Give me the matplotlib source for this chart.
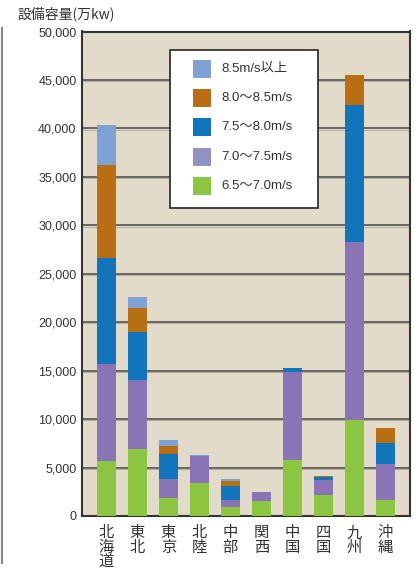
import matplotlib
matplotlib.use("Agg")
import matplotlib.pyplot as plt
from matplotlib.patches import Rectangle
from matplotlib.lines import Line2D
import numpy as np

plt.rcParams['font.family'] = ['Liberation Sans', 'Noto Sans CJK JP', 'DejaVu Sans']

regions = ["北\n海\n道", "東\n北", "東\n京", "北\n陸", "中\n部", "関\n西", "中\n国", "四\n国", "九\n州", "沖\n縄"]
# wind speed classes (bottom to top)
v_65_70 = [5700, 6900, 1900, 3400, 900, 1500, 5800, 2200, 9900, 1600]
v_70_75 = [10000, 7100, 1900, 2750, 800, 950, 9100, 1520, 18400, 3800]
v_75_80 = [10900, 5000, 2600, 50, 1400, 0, 350, 310, 14100, 2100]
v_80_85 = [9600, 2500, 850, 0, 550, 60, 50, 70, 3100, 1600]
v_85_up = [4200, 1100, 600, 50, 200, 0, 0, 0, 0, 0]

series = [v_65_70, v_70_75, v_75_80, v_80_85, v_85_up]
labels = ["6.5～7.0m/s", "7.0～7.5m/s", "7.5～8.0m/s", "8.0～8.5m/s", "8.5m/s以上"]
colors = ["#8CC540", "#8A74B5", "#1175BE", "#B86E13", "#7FA1D4"]
legend_colors = ["#8CC540", "#9192C4", "#1175BE", "#B86E13", "#7FA1D4"]
yticks = [0, 5000, 10000, 15000, 20000, 25000, 30000, 35000, 40000, 45000, 50000]

W, H = 418, 571
fig = plt.figure(figsize=(W / 100, H / 100), dpi=100)
fig.patch.set_facecolor("white")

def fx(px):
    return px / W

def fy(py):
    return 1 - py / H

ax = fig.add_axes([fx(82), fy(516), fx(410) - fx(82), fy(31.5) - fy(516)])
ax.set_facecolor("#E2DBCA")

x = np.arange(len(regions))
bottom = np.zeros(len(regions))
for vals, c in zip(series, colors):
    vals = np.array(vals, dtype=float)
    ax.bar(x, vals, width=0.61, bottom=bottom, color=c, linewidth=0, zorder=3)
    bottom += vals

ax.set_xlim(-0.79, len(regions) - 1 + 0.79)
ax.set_ylim(0, 50000)
ax.set_yticks(yticks)
ax.set_yticklabels([f"{v:,}" for v in yticks], fontsize=9, color="#333333")
for v in yticks[1:-1]:
    ax.axhline(v, color="#5F5A55", lw=1.3, zorder=1)
    ax.axhline(v - 130, color="#B5AFA5", lw=0.8, zorder=1)
ax.tick_params(axis="y", length=0, pad=4)
ax.set_xticks(x)
ax.set_xticklabels(regions, fontsize=11, color="#333333", linespacing=0.82,
                   family=['Noto Sans CJK JP'], va="top")
ax.tick_params(axis="x", length=0, pad=6)
for s in ax.spines.values():
    s.set_color("#333333")
    s.set_linewidth(1.5)

# title
fig.text(fx(17), fy(14), "設備容量(万kw)", fontsize=10, va="center", ha="left",
         family=['Noto Sans CJK JP'], color="#333333")

# left decorative line
fig.add_artist(Line2D([fx(1.5), fx(1.5)], [fy(28), fy(563)], color="#8A8580", lw=1.5))

# legend box
fig.add_artist(Rectangle((fx(170), fy(208)), fx(318) - fx(170), fy(50) - fy(208),
                         facecolor="white", edgecolor="#333333", lw=1.3, zorder=10))
for i, (lab, c) in enumerate(zip(labels[::-1], legend_colors[::-1])):
    cy = 69 + i * 29.2
    fig.add_artist(Rectangle((fx(193), fy(cy + 9)), fx(18), 18 / H,
                             facecolor=c, edgecolor="none", zorder=11))
    fig.text(fx(221), fy(cy), lab, fontsize=9.5, va="center", ha="left",
             color="#333333", zorder=12)

fig.savefig("out.png", dpi=100)
